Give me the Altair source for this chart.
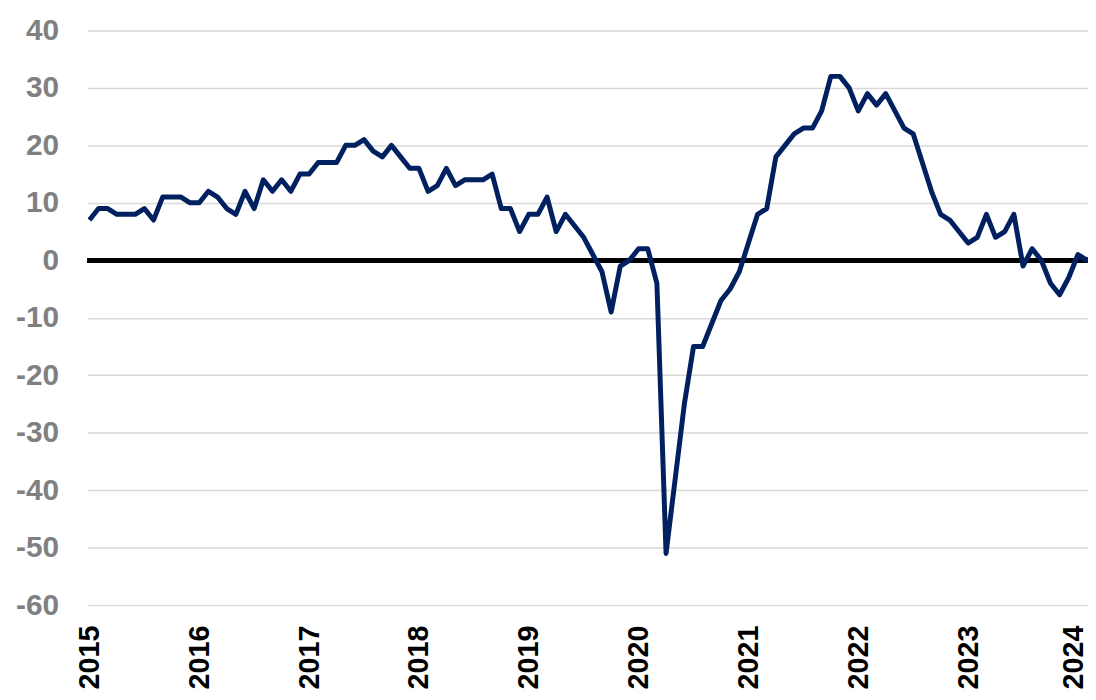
import altair as alt
import pandas as pd

# Monthly values, Jan 2015 .. Mar 2024
v2015 = [7, 9, 9, 8, 8, 8, 9, 7, 11, 11, 11, 10]
v2016 = [10, 12, 11, 9, 8, 12, 9, 14, 12, 14, 12, 15]
v2017 = [15, 17, 17, 17, 20, 20, 21, 19, 18, 20, 18, 16]
v2018 = [16, 12, 13, 16, 13, 14, 14, 14, 15, 9, 9, 5]
v2019 = [8, 8, 11, 5, 8, 6, 4, 1, -2, -9, -1, 0]
v2020 = [2, 2, -4, -51, -38, -25, -15, -15, -11, -7, -5, -2]
v2021 = [3, 8, 9, 18, 20, 22, 23, 23, 26, 32, 32, 30]
v2022 = [26, 29, 27, 29, 26, 23, 22, 17, 12, 8, 7, 5]
v2023 = [3, 4, 8, 4, 5, 8, -1, 2, 0, -4, -6, -3]
v2024 = [1, 0, 1]

values = v2015 + v2016 + v2017 + v2018 + v2019 + v2020 + v2021 + v2022 + v2023 + v2024
years = ["2015", "2016", "2017", "2018", "2019", "2020", "2021", "2022", "2023", "2024"]
year_pos = [12 * i for i in range(len(years))]
y_ticks = [40, 30, 20, 10, 0, -10, -20, -30, -40, -50, -60]

df = pd.DataFrame({"m": list(range(len(values))), "v": values})

FONT = "Liberation Sans"
x_scale = alt.Scale(domain=[-0.22, 109.1], nice=False, zero=False)
y_scale = alt.Scale(domain=[-60, 40], nice=False, zero=False)
label_expr = "[" + ",".join("'%s'" % y for y in years) + "][round(datum.value/12)]"

zero = alt.Chart(df).mark_rule(color="black", strokeWidth=4.5).encode(
    y=alt.datum(0, scale=y_scale)
)

line = alt.Chart(df).mark_line(
    color="#002060", strokeWidth=5, clip=True, strokeJoin="round"
).encode(
    x=alt.X("m:Q", scale=x_scale, title=None,
            axis=alt.Axis(values=year_pos, labelExpr=label_expr, labelAngle=-90,
                          labelAlign="right", labelBaseline="middle", ticks=False,
                          domain=False, grid=False, labelPadding=20, labelFontSize=29,
                          labelOffset={"expr": "datum.value >= %d ? -4 : 0" % year_pos[-1]},
                          labelFontWeight="bold", labelColor="black", labelFont=FONT,
                          labelFlush=False, labelOverlap=False, labelBound=False)),
    y=alt.Y("v:Q", scale=y_scale, title=None,
            axis=alt.Axis(values=y_ticks, labelExpr="datum.value + ''", ticks=False,
                          domain=False, grid=True,
                          gridColor="#d9d9d9", gridWidth=1.5, labelPadding=29,
                          labelFontSize=30, labelFontWeight="bold", labelColor="#808080",
                          labelFont=FONT, labelFlush=False, labelOverlap=False)),
)

chart = alt.layer(zero, line).properties(
    width=1008, height=579,
    padding={"left": 80, "top": 20, "right": 0, "bottom": 90},
    autosize=alt.AutoSizeParams(type="none"),
    background="white",
).configure_view(stroke=None)

chart.save("out.html", embed_options={"renderer": "svg", "actions": False})
